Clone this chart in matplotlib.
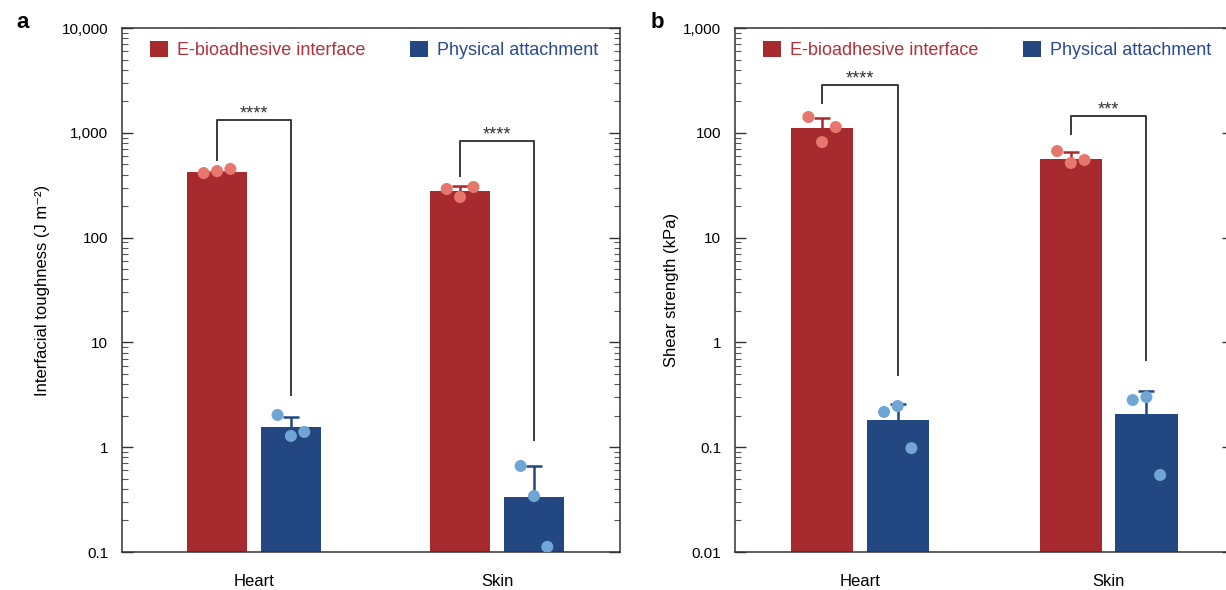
import matplotlib.pyplot as plt
from matplotlib.patches import Patch
from matplotlib.ticker import LogLocator, NullFormatter, FixedLocator
import numpy as np

plt.rcParams['font.family'] = ['Liberation Sans', 'DejaVu Sans']

tissues = ["Heart", "Skin"]
series = ["E-bioadhesive interface", "Physical attachment"]

# panel a: interfacial toughness (J m^-2)
tough_mean = [[423, 279], [1.56, 0.335]]
tough_err_top = [[423, 310], [1.95, 0.66]]
tough_pts = [[[413, 431, 452], [291, 244, 304]],
             [[2.03, 1.28, 1.40], [0.662, 0.342, 0.112]]]
tough_brk = [(550, 1325, 3.15), (387, 836, 1.17)]
tough_stars = ["****", "****"]

# panel b: shear strength (kPa)
shear_mean = [[111, 56], [0.182, 0.207]]
shear_err_top = [[138, 65.6], [0.258, 0.343]]
shear_pts = [[[141.6, 81.6, 113.5], [67, 51.5, 55]],
             [[0.217, 0.247, 0.098], [0.282, 0.301, 0.0543]]]
shear_brk = [(192, 286, 0.489), (97.5, 144.5, 0.679)]
shear_stars = ["****", "***"]

bar_cols = ["#a62a2e", "#234781"]
dot_cols = ["#e5776c", "#6fa6d6"]
txt_cols = ["#b1313a", "#2a4b8f"]

fig = plt.figure(figsize=(12.26, 5.9), dpi=100)


def panel(ax, means, tops, pts, brk, stars, ylim, ticks, labels, ylabel, xlim, lpad):
    x = np.arange(len(tissues))
    off = 0.152
    w = 0.25
    cw = 0.032
    for s in range(2):
        xs = x + (2 * s - 1) * off
        ax.bar(xs, means[s], width=w, color=bar_cols[s], zorder=2)
        # one-sided error bars: stem from the bar top plus a cap
        ax.vlines(xs, means[s], tops[s], color=bar_cols[s], lw=1.8, zorder=3)
        ax.hlines(tops[s], xs - cw, xs + cw, color=bar_cols[s], lw=1.8, zorder=3)
        for g in range(len(tissues)):
            ax.scatter(xs[g] + np.array([-0.055, 0, 0.055]), pts[s][g], s=75,
                       color=dot_cols[s], edgecolor="none", zorder=4)
    for g in range(len(tissues)):
        x0 = x[g] - off
        x1 = x[g] + off
        lo, hi, lo2 = brk[g]
        ax.plot([x0, x0, x1, x1], [lo, hi, hi, lo2], color="#3a3a3a", lw=1.4, zorder=1)
        ax.annotate(stars[g], (x[g], hi), xytext=(0, 1), textcoords="offset points",
                    ha="center", va="baseline", fontsize=13, color="#333333")

    ax.set_yscale("log")
    ax.set_ylim(*ylim)
    ax.set_xlim(*xlim)
    ax.yaxis.set_major_locator(FixedLocator(ticks))
    ax.set_yticklabels(labels)
    ax.yaxis.set_minor_locator(LogLocator(base=10, subs=np.arange(2, 10)))
    ax.yaxis.set_minor_formatter(NullFormatter())
    ax.tick_params(axis="y", which="major", direction="in", length=8, width=1,
                   right=True, labelsize=11, color="#333333", pad=10)
    ax.tick_params(axis="y", which="minor", direction="in", length=4.5, width=0.8,
                   right=True, color="#555555")
    ax.set_xticks(x)
    ax.set_xticklabels(tissues, fontsize=12)
    ax.tick_params(axis="x", length=0, pad=16)
    for sp in ax.spines.values():
        sp.set_color("#333333")
        sp.set_linewidth(1.1)
    ax.set_ylabel(ylabel, fontsize=12, labelpad=lpad)

    handles = [Patch(facecolor=bar_cols[i], edgecolor="none") for i in range(2)]
    leg = ax.legend(handles, series, loc="upper left", bbox_to_anchor=(0.03, 1.0),
                    ncol=2, frameon=False, fontsize=13, handlelength=1.0, handleheight=1.0,
                    handletextpad=0.5, columnspacing=2.5, borderaxespad=0.3)
    for t, c in zip(leg.get_texts(), txt_cols):
        t.set_color(c)


ax1 = fig.add_axes([0.0995, 0.0644, 0.4062, 0.8881])
panel(ax1, tough_mean, tough_err_top, tough_pts, tough_brk, tough_stars,
      (0.1, 10000), [0.1, 1, 10, 100, 1000, 10000],
      ["0.1", "1", "10", "100", "1,000", "10,000"],
      "Interfacial toughness (J m⁻²)", (-0.543, 1.506), 8)

ax2 = fig.add_axes([0.5995, 0.0644, 0.4062, 0.8881])
panel(ax2, shear_mean, shear_err_top, shear_pts, shear_brk, shear_stars,
      (0.01, 1000), [0.01, 0.1, 1, 10, 100, 1000],
      ["0.01", "0.1", "1", "10", "100", "1,000"],
      "Shear strength (kPa)", (-0.502, 1.5), 3)

fig.text(0.013, 0.953, "a", fontsize=16, fontweight="bold")
fig.text(0.531, 0.953, "b", fontsize=16, fontweight="bold")

fig.savefig("out.png", dpi=100)
